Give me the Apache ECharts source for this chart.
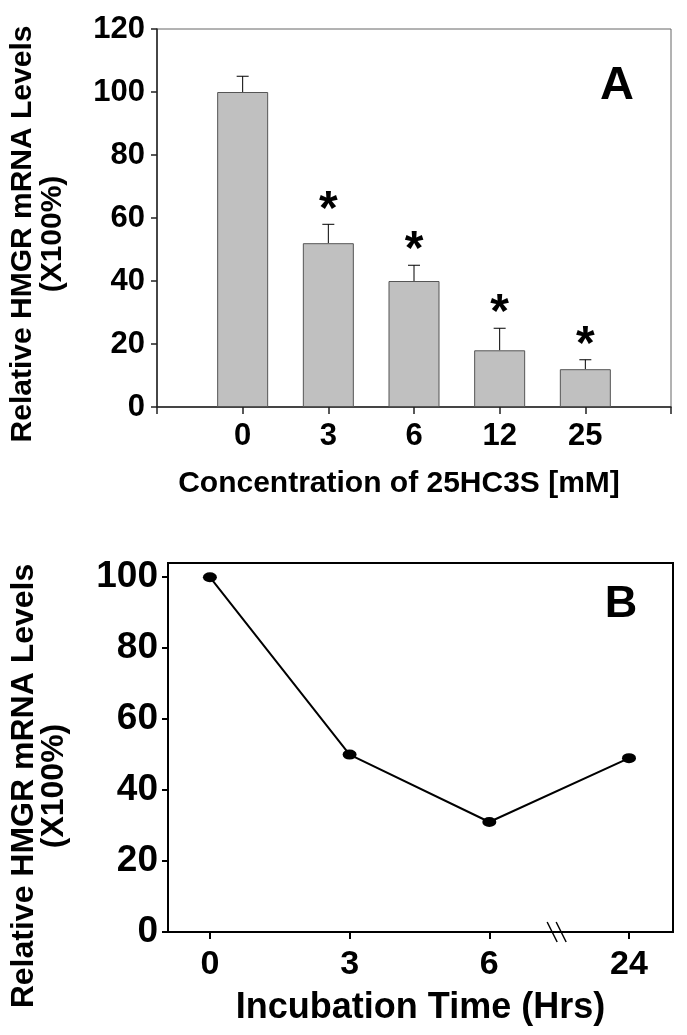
<!DOCTYPE html>
<html>
<head>
<meta charset="utf-8">
<script src="https://cdn.jsdelivr.net/npm/echarts@6/dist/echarts.min.js"></script>
<style>
html,body{margin:0;padding:0;background:#fff;}
#c{width:687px;height:1035px;}
</style>
</head>
<body>
<div id="c"></div>
<script>
// ---- Panel A data ----
const concCats = ['0', '3', '6', '12', '25'];
const meanA = [100, 52, 40, 18, 12];
const sdA = [5, 6, 5, 7, 3];
const sigA = [false, true, true, true, true];
// ---- Panel B data ----
const timeCats = ['0', '3', '6', '24'];
const levelsB = [100, 50, 31, 49];
const yTicksB = [0, 20, 40, 60, 80, 100];
const breakAtB = [2.5];

const FONT = '"Liberation Sans", Arial, Helvetica, sans-serif';

const chart = echarts.init(document.getElementById('c'), null, {renderer: 'canvas'});

const catsA = [' '].concat(concCats, ['  ']);
const barDataA = ['-'].concat(meanA, ['-']);
const errDataA = concCats.map((c, i) => [i + 1, meanA[i], meanA[i] + sdA[i], sigA[i] ? 1 : 0]);
const lineDataB = timeCats.map((c, i) => [i, levelsB[i]]);

const option = {
  backgroundColor: '#fff',
  animation: false,
  textStyle: {fontFamily: FONT},
  grid: [
    {left: 157, top: 29, width: 514, height: 378, show: true, borderColor: '#666', borderWidth: 1, backgroundColor: 'transparent'},
    {left: 168, top: 563, width: 505, height: 369, show: true, borderColor: '#000', borderWidth: 2, backgroundColor: 'transparent'}
  ],
  xAxis: [
    {
      gridIndex: 0, type: 'category', data: catsA, boundaryGap: false,
      axisLine: {onZero: false, lineStyle: {color: '#222', width: 1.5}},
      axisTick: {show: true, length: 7, lineStyle: {color: '#222', width: 1.5}},
      axisLabel: {color: '#000', fontSize: 31, fontWeight: 'bold', fontFamily: FONT, margin: 14, interval: 0},
      splitLine: {show: false},
      name: 'Concentration of 25HC3S [mM]', nameLocation: 'middle', nameGap: 62,
      nameTextStyle: {color: '#000', fontSize: 30, fontWeight: 'bold', fontFamily: FONT, padding: [0, 30, 0, 0]}
    },
    {
      gridIndex: 1, type: 'value', min: -0.3, max: 3.315,
      axisLine: {onZero: false, lineStyle: {color: '#000', width: 2}},
      axisTick: {show: true, length: 7, lineStyle: {color: '#000', width: 2}, customValues: timeCats.map((c, i) => i)},
      axisLabel: {color: '#000', fontSize: 34, fontWeight: 'bold', fontFamily: FONT, margin: 16,
        customValues: timeCats.map((c, i) => i),
        formatter: v => timeCats[Math.round(v)]},
      splitLine: {show: false},
      name: 'Incubation Time (Hrs)', nameLocation: 'middle', nameGap: 58,
      nameTextStyle: {color: '#000', fontSize: 36, fontWeight: 'bold', fontFamily: FONT}
    }
  ],
  yAxis: [
    {
      gridIndex: 0, type: 'value', min: 0, max: 120, interval: 20,
      axisLine: {show: true, onZero: false, lineStyle: {color: '#222', width: 1.5}},
      axisTick: {show: true, length: 6, lineStyle: {color: '#222', width: 1.5}},
      axisLabel: {color: '#000', fontSize: 31, fontWeight: 'bold', fontFamily: FONT, margin: 12},
      splitLine: {show: false}
    },
    {
      gridIndex: 1, type: 'value', min: 0, max: 104,
      axisLine: {show: true, onZero: false, lineStyle: {color: '#000', width: 2}},
      axisTick: {show: true, length: 6, lineStyle: {color: '#000', width: 2}, customValues: yTicksB},
      axisLabel: {color: '#000', fontSize: 37, fontWeight: 'bold', fontFamily: FONT, margin: 10, customValues: yTicksB},
      splitLine: {show: false}
    }
  ],
  graphic: [
    {type: 'text', x: 38, y: 234, rotation: Math.PI / 2,
      style: {text: 'Relative HMGR mRNA Levels\n(X100%)', font: 'bold 30px ' + FONT, fill: '#000',
        textAlign: 'center', textVerticalAlign: 'middle', lineHeight: 30}},
    {type: 'text', x: 39, y: 786, rotation: Math.PI / 2,
      style: {text: 'Relative HMGR mRNA Levels\n(X100%)', font: 'bold 32px ' + FONT, fill: '#000',
        textAlign: 'center', textVerticalAlign: 'middle', lineHeight: 30}},
    {type: 'text', x: 617, y: 86,
      style: {text: 'A', font: 'bold 47px ' + FONT, fill: '#000', textAlign: 'center', textVerticalAlign: 'middle'}},
    {type: 'text', x: 621, y: 605,
      style: {text: 'B', font: 'bold 45px ' + FONT, fill: '#000', textAlign: 'center', textVerticalAlign: 'middle'}}
  ],
  series: [
    {
      type: 'bar', xAxisIndex: 0, yAxisIndex: 0, data: barDataA, barWidth: 51,
      itemStyle: {color: '#c0c0c0', borderColor: '#555', borderWidth: 1},
      emphasis: {disabled: true}, silent: true
    },
    {
      type: 'custom', xAxisIndex: 0, yAxisIndex: 0, data: errDataA, clip: false, silent: true,
      renderItem: function (params, api) {
        const idx = api.value(0);
        const base = api.coord([idx, api.value(1)]);
        const top = api.coord([idx, api.value(2)]);
        const children = [
          {type: 'line', shape: {x1: base[0], y1: base[1], x2: top[0], y2: top[1]}, style: {stroke: '#000', lineWidth: 1}},
          {type: 'line', shape: {x1: top[0] - 6, y1: top[1], x2: top[0] + 6, y2: top[1]}, style: {stroke: '#000', lineWidth: 1}}
        ];
        if (api.value(3) === 1) {
          children.push({type: 'text', style: {text: '*', x: top[0], y: top[1] - 14, textAlign: 'center', textVerticalAlign: 'middle',
            font: 'bold 48px ' + FONT, fill: '#000'}});
        }
        return {type: 'group', children: children};
      }
    },
    {
      type: 'line', xAxisIndex: 1, yAxisIndex: 1, data: lineDataB,
      symbol: 'circle', symbolSize: [14, 10],
      itemStyle: {color: '#000'}, lineStyle: {color: '#000', width: 2},
      emphasis: {disabled: true}, silent: true
    },
    {
      type: 'custom', xAxisIndex: 1, yAxisIndex: 1, data: breakAtB.map(b => [b, 0]), clip: false, silent: true,
      renderItem: function (params, api) {
        const p = api.coord([api.value(0), api.value(1)]);
        return {type: 'group', children: [
          {type: 'line', shape: {x1: p[0] - 12, y1: p[1] - 10, x2: p[0] - 2, y2: p[1] + 10}, style: {stroke: '#000', lineWidth: 1.5}},
          {type: 'line', shape: {x1: p[0] - 3, y1: p[1] - 10, x2: p[0] + 7, y2: p[1] + 10}, style: {stroke: '#000', lineWidth: 1.5}}
        ]};
      }
    }
  ]
};
chart.setOption(option);
</script>
</body>
</html>
